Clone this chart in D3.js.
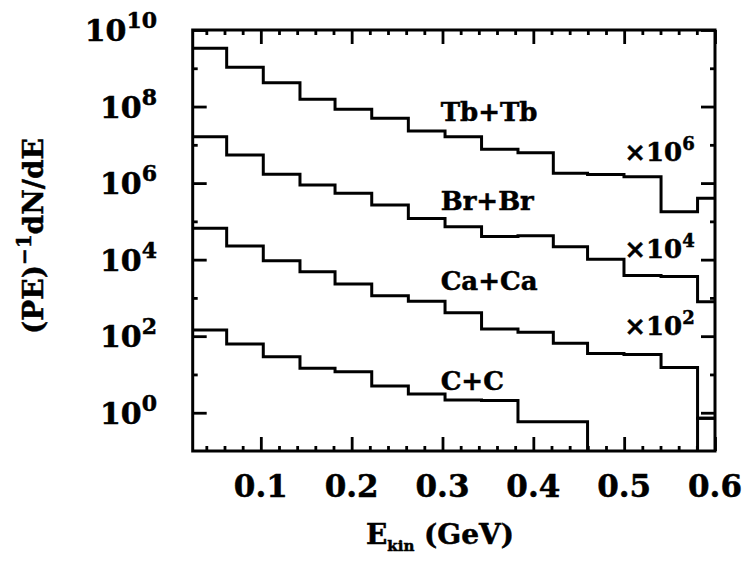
<!DOCTYPE html>
<html>
<head>
<meta charset="utf-8">
<script src="https://cdn.jsdelivr.net/npm/d3@7"></script>
<style>
  html, body { margin: 0; padding: 0; background: #fff; }
  svg { display: block; }
  text { font-family: "DejaVu Serif", "Liberation Serif", serif; font-weight: bold; fill: #000; stroke: #000; stroke-width: 0.5; }
</style>
</head>
<body>
<svg id="chart" width="744" height="564"></svg>
<script>
// ---- data ----
const binEdges = [0.025, 0.0624, 0.1027, 0.1431, 0.1817, 0.2221, 0.2624, 0.3028, 0.3430, 0.3831, 0.4220, 0.4597, 0.4998, 0.5406, 0.5808, 0.6];
const systems = ["Tb+Tb", "Br+Br", "Ca+Ca", "C+C"];
const scaleLabels = ["6", "4", "2", ""];
const scaleFactors = [1e6, 1e4, 1e2, 1];
const tbValues = [3330, 1060, 420, 155, 84.7, 49.3, 23.0, 16.3, 7.64, 6.22, 1.80, 1.67, 1.47, 0.179, 0.400];
const brValues = [1630, 542, 169, 89.1, 54.1, 26.7, 11.9, 7.24, 4.02, 4.22, 2.18, 1.02, 0.385, 0.362, 0.0794];
const caValues = [658, 227, 93.8, 48.3, 23.1, 11.4, 8.15, 4.10, 1.54, 1.26, 0.650, 0.352, 0.332, 0.153, 0.00714];
const cValues  = [145, 62.4, 29.0, 14.5, 11.8, 4.99, 3.08, 2.15, 2.10, 0.582, 0.582, 0, 0, 0, 0.715];
const seriesValues = [tbValues, brValues, caValues, cValues];
const xMajorTicks = [0.1, 0.2, 0.3, 0.4, 0.5, 0.6];
const xTickLabels = ["0.1", "0.2", "0.3", "0.4", "0.5", "0.6"];
const xMinorTicks = [0.04, 0.06, 0.08, 0.12, 0.14, 0.16, 0.18, 0.22, 0.24, 0.26, 0.28, 0.32, 0.34, 0.36, 0.38, 0.42, 0.44, 0.46, 0.48, 0.52, 0.54, 0.56, 0.58];
const yMajorTicks = [1e0, 1e2, 1e4, 1e6, 1e8, 1e10];
const yMajorExp = ["0", "2", "4", "6", "8", "10"];
const yMinorTicks = [1e1, 1e3, 1e5, 1e7, 1e9];

// ---- layout ----
const L = 192.7, R = 715, T = 30, B = 451;
const svg = d3.select("#chart");
svg.append("rect").attr("width", 744).attr("height", 564).attr("fill", "#fff");

const x = d3.scaleLinear().domain([0.025, 0.6]).range([L, R]);
const y = d3.scaleLog().domain([1e-1, 1e10]).range([B, T]);

svg.append("clipPath").attr("id", "plotclip")
  .append("rect").attr("x", L).attr("y", T).attr("width", R - L).attr("height", B - T);

// ---- histograms ----
const line = d3.line()
  .x(d => x(d.e))
  .y(d => d.v > 0 ? y(d.v) : B + 4)
  .curve(d3.curveStepAfter);

const g = svg.append("g").attr("clip-path", "url(#plotclip)");
seriesValues.forEach((vals, si) => {
  const pts = vals.map((v, i) => ({ e: binEdges[i], v: v * scaleFactors[si] }));
  pts.push({ e: binEdges[binEdges.length - 1], v: vals[vals.length - 1] * scaleFactors[si] });
  g.append("path")
    .attr("d", line(pts))
    .attr("fill", "none")
    .attr("stroke", "#000")
    .attr("stroke-width", 3)
    .attr("stroke-linejoin", "miter");
});

// ---- axes (ticks pointing inward on all four sides) ----
function styleAxis(sel) {
  sel.select(".domain").remove();
  sel.selectAll(".tick line").attr("stroke", "#000").attr("stroke-width", 2.8);
  sel.selectAll(".tick text").remove();
}
svg.append("g").attr("transform", `translate(0,${B})`)
  .call(d3.axisBottom(x).tickValues(xMajorTicks).tickSize(-14)).call(styleAxis);
svg.append("g").attr("transform", `translate(0,${B})`)
  .call(d3.axisBottom(x).tickValues(xMinorTicks).tickSize(-5)).call(styleAxis);
svg.append("g").attr("transform", `translate(0,${T})`)
  .call(d3.axisTop(x).tickValues(xMajorTicks).tickSize(-14)).call(styleAxis);
svg.append("g").attr("transform", `translate(0,${T})`)
  .call(d3.axisTop(x).tickValues(xMinorTicks).tickSize(-5)).call(styleAxis);
svg.append("g").attr("transform", `translate(${L},0)`)
  .call(d3.axisLeft(y).tickValues(yMajorTicks).tickSize(-14)).call(styleAxis);
svg.append("g").attr("transform", `translate(${L},0)`)
  .call(d3.axisLeft(y).tickValues(yMinorTicks).tickSize(-5)).call(styleAxis);
svg.append("g").attr("transform", `translate(${R},0)`)
  .call(d3.axisRight(y).tickValues(yMajorTicks).tickSize(-14)).call(styleAxis);
svg.append("g").attr("transform", `translate(${R},0)`)
  .call(d3.axisRight(y).tickValues(yMinorTicks).tickSize(-5)).call(styleAxis);

// frame
svg.append("rect").attr("x", L).attr("y", T).attr("width", R - L).attr("height", B - T)
  .attr("fill", "none").attr("stroke", "#000").attr("stroke-width", 3);

// ---- tick labels ----
xMajorTicks.forEach((t, i) => {
  svg.append("text").attr("x", x(t)).attr("y", 497)
    .attr("text-anchor", "middle").attr("font-size", 31).text(xTickLabels[i]);
});
yMajorTicks.forEach((t, i) => {
  const tx = svg.append("text").attr("x", 157).attr("y", y(t) + 11)
    .attr("text-anchor", "end").attr("font-size", 30);
  tx.append("tspan").text("10");
  tx.append("tspan").attr("dy", -13).attr("font-size", 22).text(yMajorExp[i]);
});

// ---- axis titles ----
const xt = svg.append("text").attr("x", 440).attr("y", 544).attr("text-anchor", "middle").attr("font-size", 28);
xt.append("tspan").text("E");
xt.append("tspan").attr("dy", 7).attr("font-size", 15).text("kin");
xt.append("tspan").attr("dy", -7).text("\u00a0(GeV)");

const yt = svg.append("text").attr("transform", "translate(43,236) rotate(-90)")
  .attr("text-anchor", "middle").attr("font-size", 28);
yt.append("tspan").text("(PE)");
yt.append("tspan").attr("dy", -12).attr("font-size", 20).text("\u22121");
yt.append("tspan").attr("dy", 12).text("dN/dE");

// ---- in-plot labels ----
const labelPos = [{ x: 0.298, yb: 121 }, { x: 0.298, yb: 210 }, { x: 0.298, yb: 290 }, { x: 0.298, yb: 390 }];
systems.forEach((s, i) => {
  svg.append("text").attr("x", x(labelPos[i].x)).attr("y", labelPos[i].yb)
    .attr("font-size", 26).text(s);
});
const mulPos = [161, 258, 335];
scaleLabels.forEach((e, i) => {
  if (!e) return;
  const t = svg.append("text").attr("x", x(0.5)).attr("y", mulPos[i]).attr("font-size", 26);
  t.append("tspan").text("\u00d710");
  t.append("tspan").attr("dy", -11).attr("font-size", 18).text(e);
});
</script>
</body>
</html>
